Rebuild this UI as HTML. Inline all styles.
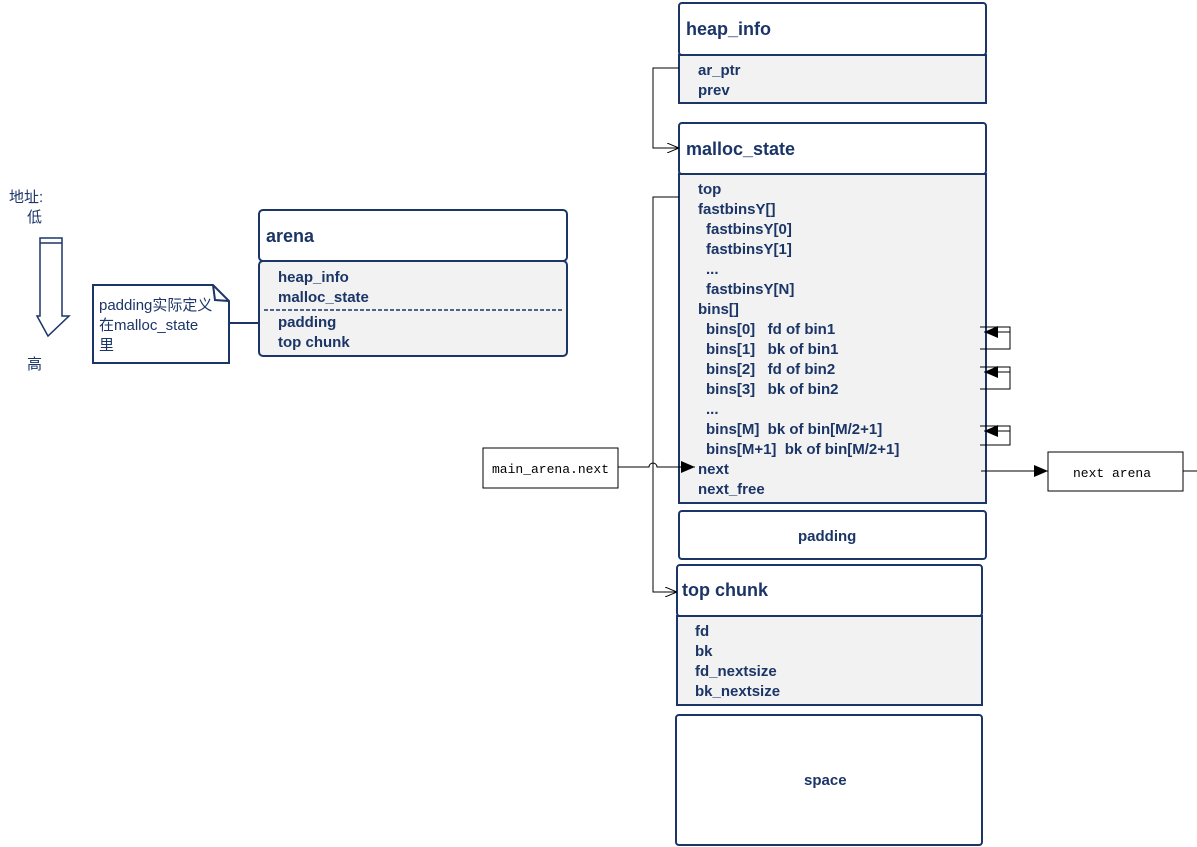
<!DOCTYPE html><html><head><meta charset="utf-8"><style>body{margin:0;background:#fff}svg{display:block}
text{white-space:pre}
.t{font-family:"Liberation Sans","Noto Sans CJK SC",sans-serif;font-weight:bold;font-size:15px;fill:#1b3567}
.h{font-size:18px}
.c{font-family:"Liberation Sans","Noto Sans CJK SC",sans-serif;font-size:15px;fill:#1b3567}
.m{font-family:"Liberation Mono",monospace;font-size:13px;fill:#000}
</style></head><body>
<svg width="1197" height="847" viewBox="0 0 1197 847" xml:space="preserve">
<defs><marker id="a" markerWidth="14" markerHeight="12" refX="14" refY="6" orient="auto" markerUnits="userSpaceOnUse"><path d="M0,0L14,6L0,12z" fill="#000"/></marker>
<marker id="o" markerWidth="12" markerHeight="10" refX="12" refY="5" orient="auto" markerUnits="userSpaceOnUse"><path d="M0,0L12,5L0,10" fill="none" stroke="#000"/></marker></defs>
<g stroke="#1b3567" stroke-width="2">
<rect x="679" y="3" width="307" height="52" rx="3" fill="#fff"/>
<rect x="679" y="55" width="307" height="48" fill="#f2f2f2"/>
<rect x="679" y="123" width="307" height="51" rx="3" fill="#fff"/>
<rect x="679" y="174" width="307" height="329" fill="#f2f2f2"/>
<rect x="679" y="511" width="307" height="48" rx="3" fill="#fff"/>
<rect x="677" y="565" width="305" height="51" rx="3" fill="#fff"/>
<rect x="677" y="616" width="305" height="89" fill="#f2f2f2"/>
<rect x="676" y="715" width="306" height="130" rx="3" fill="#fff"/>
<rect x="259" y="210" width="308" height="51" rx="4" fill="#fff"/>
<rect x="259" y="261" width="308" height="95" rx="4" fill="#f2f2f2"/>
<line x1="264" y1="310" x2="563" y2="310" stroke-dasharray="4,2" stroke-width="1.5"/>
<path d="M93,285H213L229,301V363H93Z" fill="#fff"/>
<path d="M213,285L215,300L229,301" fill="none"/>
<path d="M229,323H260" fill="none"/>
<path d="M40,238H62V316H69L48,336L37,316H40Z M40,243H62" fill="#fff" stroke-width="1.5"/>
</g>
<g stroke="#000" stroke-width="1" fill="none">
<rect x="483" y="448" width="135" height="40" fill="#fff"/>
<rect x="1048" y="452" width="135" height="39" fill="#fff"/>
<path d="M679,68H653V148H679" marker-end="url(#o)"/>
<path d="M679,197H653V592H677" marker-end="url(#o)"/>
<path d="M618,467H649a4,4 0 0 1 8,0H695" marker-end="url(#a)"/>
<path d="M981,471H1048" marker-end="url(#a)"/>
<path d="M1183,471H1197"/>
<path d="M980,327H1010V349H980M1010,332H984" marker-end="url(#a)"/>
<path d="M980,367H1010V389H980M1010,372H984" marker-end="url(#a)"/>
<path d="M980,426H1010V445H980M1010,431H984" marker-end="url(#a)"/>
</g>
<text class="t h" x="686" y="35">heap_info</text>
<text class="t" x="698" y="75">ar_ptr</text><text class="t" x="698" y="95">prev</text>
<text class="t h" x="686" y="155">malloc_state</text>
<g class="t">
<text x="698" y="194">top</text><text x="698" y="214">fastbinsY[]</text>
<text x="706" y="234">fastbinsY[0]</text><text x="706" y="254">fastbinsY[1]</text>
<text x="706" y="274">...</text><text x="706" y="294">fastbinsY[N]</text>
<text x="698" y="314">bins[]</text>
<text x="706" y="334">bins[0]   fd of bin1</text><text x="706" y="354">bins[1]   bk of bin1</text>
<text x="706" y="374">bins[2]   fd of bin2</text><text x="706" y="394">bins[3]   bk of bin2</text>
<text x="706" y="414">...</text><text x="706" y="434">bins[M]  bk of bin[M/2+1]</text>
<text x="706" y="454">bins[M+1]  bk of bin[M/2+1]</text>
<text x="698" y="474">next</text><text x="698" y="494">next_free</text>
<text x="798" y="541">padding</text>
<text x="682" y="596" class="t h">top chunk</text>
<text x="695" y="636">fd</text><text x="695" y="656">bk</text><text x="695" y="676">fd_nextsize</text><text x="695" y="696">bk_nextsize</text>
<text x="804" y="785">space</text>
<text x="266" y="242" class="t h">arena</text>
<text x="278" y="282">heap_info</text><text x="278" y="302">malloc_state</text>
<text x="278" y="327">padding</text><text x="278" y="347">top chunk</text>
</g>
<text class="c" x="99" y="310">padding实际定义</text><text class="c" x="99" y="330">在malloc_state</text><text class="c" x="99" y="350">里</text>
<text class="c" x="9" y="202">地址:</text><text class="c" x="27" y="222">低</text><text class="c" x="27" y="369">高</text>
<text class="m" x="492" y="473">main_arena.next</text>
<text class="m" x="1073" y="477">next arena</text>
</svg></body></html>
